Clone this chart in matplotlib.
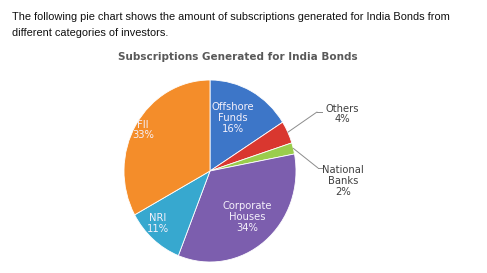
import numpy as np
import matplotlib.pyplot as plt

W, H = 487, 273

categories = ["Offshore\nFunds", "Others", "National\nBanks", "Corporate\nHouses", "NRI", "FII"]
shares = [16, 4, 2, 34, 11, 33]
colors = ["#3d76c8", "#d9372f", "#9acd4c", "#7c5eae", "#37a8cf", "#f48d2a"]
# where each label sits, in pie units (None -> outside label with leader line)
inside_pos = [(0.27, 0.58), None, None, (0.43, -0.505), (-0.61, -0.58), (-0.78, 0.45)]
outside_px = {1: (342, 114), 2: (343, 181)}
elbow_px = {1: (317, 112), 2: (318, 168)}


def fig_xy(x, y):
    # pixel coords (top-left origin) -> figure fraction
    return x / W, 1 - y / H


fig = plt.figure(figsize=(W / 100, H / 100), dpi=100)
fig.patch.set_facecolor("white")

fig.text(*fig_xy(12, 17), "The following pie chart shows the amount of subscriptions generated for India Bonds from",
         family="Liberation Sans", fontsize=7.9, va="center", ha="left", color="#111111")
fig.text(*fig_xy(12, 33), "different categories of investors.",
         family="Liberation Sans", fontsize=7.9, va="center", ha="left", color="#111111")
fig.text(*fig_xy(238, 57), "Subscriptions Generated for India Bonds",
         family="DejaVu Sans", fontsize=7.5, fontweight="bold", va="center", ha="center", color="#595959")

# pie centre / radii in pixels
cx, cy, rx, ry = 210, 171, 86, 91
ax = fig.add_axes([(cx - rx) / W, 1 - (cy + ry) / H, 2 * rx / W, 2 * ry / H])
wedges, _ = ax.pie(shares, colors=colors, startangle=90, counterclock=False, radius=1,
                   wedgeprops=dict(edgecolor="white", linewidth=0.6))
ax.set_aspect("auto")
ax.set_xlim(-1, 1)
ax.set_ylim(-1, 1)
ax.axis("off")

total = sum(shares)
for i, (name, val) in enumerate(zip(categories, shares)):
    label = f"{name}\n{round(100 * val / total)}%"
    if inside_pos[i] is not None:
        ax.text(*inside_pos[i], label, ha="center", va="center", color="#f4f0fa",
                fontsize=7.2, family="DejaVu Sans", linespacing=1.1)
    else:
        w = wedges[i]
        mid = np.deg2rad((w.theta1 + w.theta2) / 2)
        edge = (np.cos(mid), np.sin(mid))
        ex, ey = elbow_px[i]
        ax.annotate("", xy=edge, xycoords="data", xytext=fig_xy(ex, ey), textcoords="figure fraction",
                    arrowprops=dict(arrowstyle="-", color="#8c8c8c", lw=0.7, shrinkA=0, shrinkB=0))
        fig.lines.append(plt.Line2D([ex / W, (ex + 5) / W], [1 - ey / H, 1 - ey / H],
                                    transform=fig.transFigure, color="#8c8c8c", lw=0.7))
        tx, ty = outside_px[i]
        fig.text(*fig_xy(tx, ty), label, ha="center", va="center", color="#404040",
                 fontsize=7.2, family="DejaVu Sans", linespacing=1.1)

fig.savefig("out.png", dpi=100, facecolor="white")
